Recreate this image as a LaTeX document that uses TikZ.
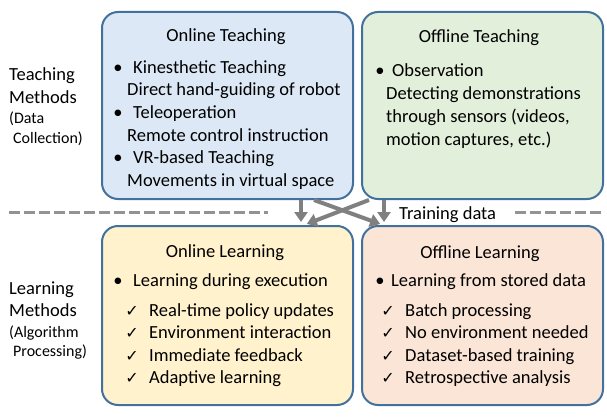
\documentclass[tikz,border=0pt]{standalone}
\usepackage{fontspec}
\setmainfont{Carlito}
\newfontfamily\symfont{DejaVu Sans}
\usetikzlibrary{arrows.meta}
\definecolor{boxline}{HTML}{41719C}
\definecolor{teachon}{HTML}{DCE8F5}
\definecolor{teachoff}{HTML}{E2EFDA}
\definecolor{learnon}{HTML}{FFF2CC}
\definecolor{learnoff}{HTML}{FBE5D6}
\definecolor{flowgray}{HTML}{808080}
\tikzset{
	box/.style={draw=boxline, line width=2pt, rounded corners=16pt, minimum width=251pt, minimum height=187pt, inner sep=0pt},
	txt/.style={anchor=base west, inner sep=0pt, font=\fontsize{18.5}{22}\selectfont},
	small/.style={anchor=base west, inner sep=0pt, font=\fontsize{16}{19}\selectfont},
	head/.style={anchor=base, inner sep=0pt, font=\fontsize{18.5}{22}\selectfont},
	dot/.style={anchor=base, inner sep=0pt, font=\fontsize{18.5}{22}\selectfont},
	tick/.style={anchor=base, inner sep=0pt, font=\symfont\fontsize{16}{19}\selectfont},
	flow/.style={draw=flowgray, line width=4pt, -{Triangle[width=13pt,length=10pt]}, shorten >=3pt},
	divider/.style={draw=flowgray!85, line width=3pt, dash pattern=on 11pt off 4pt}
}
\begin{document}
\begin{tikzpicture}[x=1pt,y=-1pt]
	\useasboundingbox (0,0) rectangle (607,417);
	
	% boxes
	\node[box, fill=teachon] (onteach) at (227.5,105.5) {};
	\node[box, fill=teachoff, minimum width=241pt] (offteach) at (482.5,105.5) {};
	\node[box, fill=learnon, minimum height=179pt] (onlearn) at (227.5,315.5) {};
	\node[box, fill=learnoff, minimum width=241pt, minimum height=179pt] (offlearn) at (482.5,315.5) {};
	
	% divider
	\draw[divider] (9,212) -- (268,212);
	\draw[divider] (515,212) -- (603,212);
	\node[txt] (trdata) at (399,219) {Training data};
	
	% flows
	\draw[flow] ([xshift=-53pt]onteach.south east) -- ([xshift=-53pt]onlearn.north east);
	\draw[flow] ([xshift=-40pt]onteach.south east) -- ([xshift=22pt]offlearn.north west);
	\draw[flow] ([xshift=8pt]offteach.south west) -- ([xshift=-50pt]onlearn.north east);
	\draw[flow] ([xshift=23pt]offteach.south west) -- ([xshift=23pt]offlearn.north west);
	
	% side labels
	\node[txt] (tlab1) at (9,81) {Teaching};
	\node[txt] (tlab2) at (9,104) {Methods};
	\node[small] (tlab3) at (9,124) {(Data};
	\node[small] (tlab4) at (13,143) {Collection)};
	\node[txt] (llab1) at (9,294) {Learning};
	\node[txt] (llab2) at (9,316) {Methods};
	\node[small] (llab3) at (9,337) {(Algorithm};
	\node[small] (llab4) at (13,356) {Processing)};
	
	% online teaching
	\node[head] (onteachhd) at (226,42) {Online Teaching};
	\foreach \item/\note [count=\i] in {Kinesthetic Teaching/Direct hand-guiding of robot, Teleoperation/Remote control instruction, VR-based Teaching/Movements in virtual space}{
		\node[dot] (onteachdot\i) at (118,28+45.2*\i) {•};
		\node[txt] (onteachitem\i) at (133,28+45.2*\i) {\item};
		\node[txt] (onteachnote\i) at (127,50.6+45.2*\i) {\note};
	}
	
	% offline teaching
	\node[head] (offteachhd) at (479,43) {Offline Teaching};
	\node[dot] (offteachdot) at (380,77) {•};
	\node[txt] (offteachitem) at (392,77) {Observation};
	\node[txt] (offteachnote1) at (386,100) {Detecting demonstrations};
	\node[txt] (offteachnote2) at (386,122) {through sensors (videos,};
	\node[txt] (offteachnote3) at (386,145) {motion captures, etc.)};
	
	% online learning
	\node[head] (onlearnhd) at (225,257) {Online Learning};
	\node[dot] (onlearndot) at (118,286) {•};
	\node[txt] (onlearnitem) at (133,286) {Learning during execution};
	\foreach \t [count=\i] in {Real-time policy updates, Environment interaction, Immediate feedback, Adaptive learning}{
		\node[tick] (onlearnchk\i) at (132,293.5+22.6*\i) {✓};
		\node[txt] (onlearnpt\i) at (149,293.5+22.6*\i) {\t};
	}
	
	% offline learning
	\node[head] (offlearnhd) at (480,258) {Offline Learning};
	\node[dot] (offlearndot) at (380,286) {•};
	\node[txt] (offlearnitem) at (391,286) {Learning from stored data};
	\foreach \t [count=\i] in {Batch processing, No environment needed, Dataset-based training, Retrospective analysis}{
		\node[tick] (offlearnchk\i) at (388,293.5+22.6*\i) {✓};
		\node[txt] (offlearnpt\i) at (405,293.5+22.6*\i) {\t};
	}
	
\end{tikzpicture}
\end{document}
